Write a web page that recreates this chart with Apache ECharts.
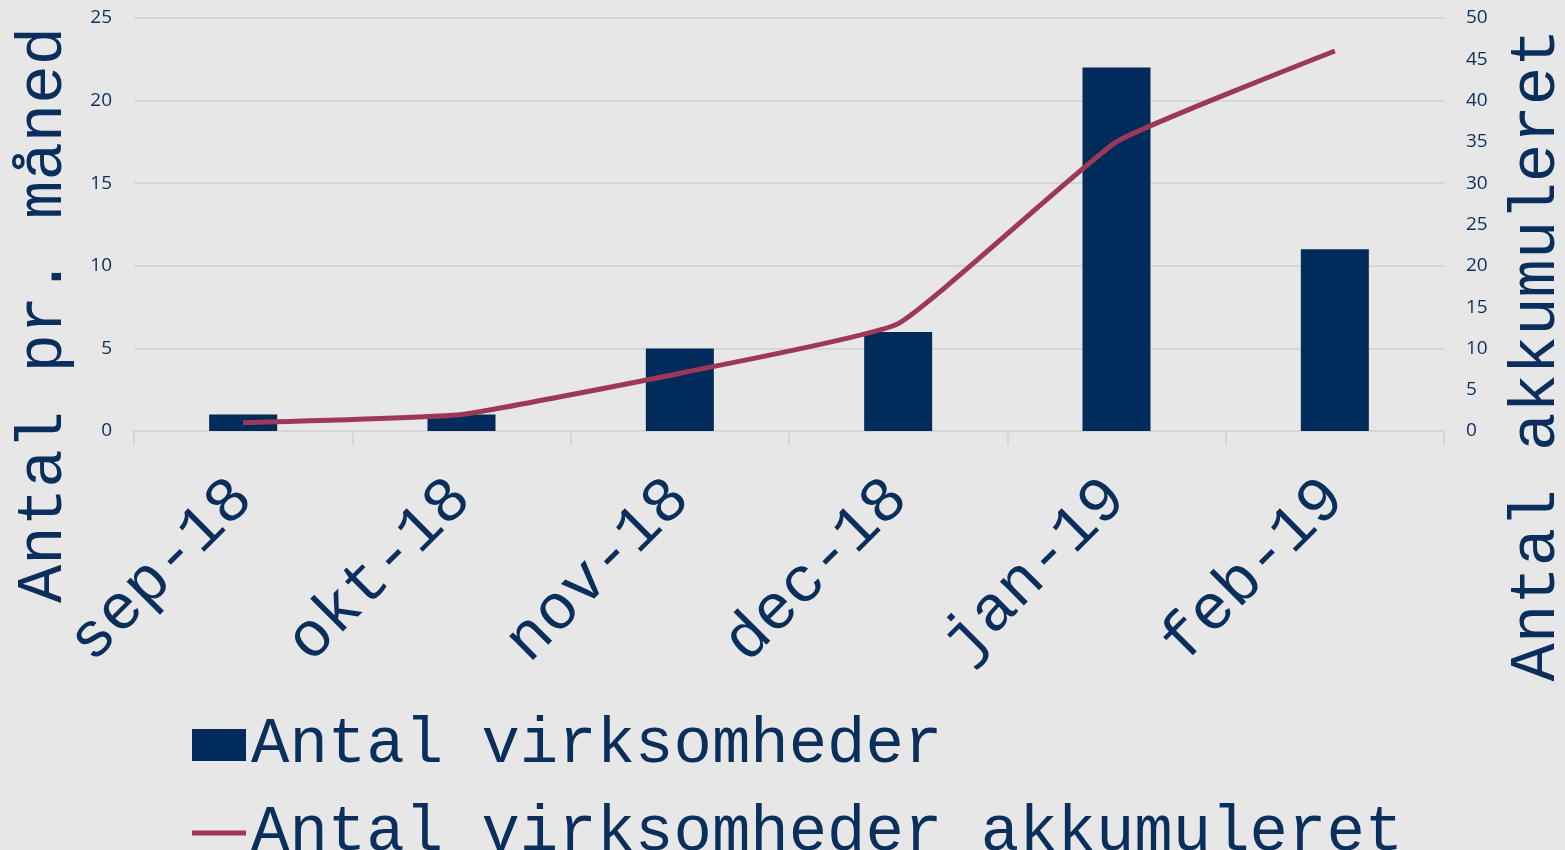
<!DOCTYPE html>
<html>
<head>
<meta charset="utf-8">
<script src="https://cdn.jsdelivr.net/npm/echarts@6/dist/echarts.min.js"></script>
<style>
  html, body { margin: 0; padding: 0; background: #e7e7e7; }
  #chart { width: 1565px; height: 850px; }
</style>
</head>
<body>
<div id="chart"></div>
<script>
const months = ["sep-18", "okt-18", "nov-18", "dec-18", "jan-19", "feb-19"];
const perMonth = [1, 1, 5, 6, 22, 11];
const cumulative = [1, 2, 7, 13, 35, 46];

const navy = "#002b5b";
const wine = "#9e3858";
const textColor = "#0b2f5c";
const mono = "'Liberation Mono', 'DejaVu Sans Mono', monospace";
const sans = "'Open Sans', 'Noto Sans', sans-serif";

const legendBase = {
  orient: "horizontal",
  left: 187,
  itemWidth: 54,
  itemHeight: 32,
  textStyle: { color: textColor, fontFamily: mono, fontSize: 64, lineHeight: 64 },
};

const ch = echarts.init(document.getElementById("chart"));

ch.setOption({
  backgroundColor: "#e7e7e7",
  animation: false,
  grid: { left: 134, right: 121, top: 18, bottom: 419 },
  legend: [
    Object.assign({}, legendBase, {
      top: 708,
      data: [{ name: "Antal virksomheder", icon: "rect" }],
    }),
    Object.assign({}, legendBase, {
      top: 796,
      data: [{ name: "Antal virksomheder akkumuleret", icon: "path://M0,0H54V5H0Z" }],
    }),
  ],
  graphic: [
    {
      type: "text",
      x: 44,
      y: 315,
      rotation: Math.PI / 2,
      style: {
        text: "Antal pr. måned",
        fill: textColor,
        font: `64px ${mono}`,
        textAlign: "center",
        textVerticalAlign: "middle",
      },
    },
    {
      type: "text",
      x: 1537,
      y: 355,
      rotation: Math.PI / 2,
      style: {
        text: "Antal akkumuleret",
        fill: textColor,
        font: `64px ${mono}`,
        textAlign: "center",
        textVerticalAlign: "middle",
      },
    },
  ],
  xAxis: {
    type: "category",
    data: months,
    axisLine: { lineStyle: { color: "#d6d6d6", width: 2 } },
    axisTick: { show: true, length: 14, lineStyle: { color: "#d6d6d6", width: 2 } },
    axisLabel: {
      rotate: 45,
      margin: 58,
      color: textColor,
      fontFamily: mono,
      fontSize: 64,
    },
  },
  yAxis: [
    {
      type: "value",
      min: 0,
      max: 25,
      interval: 5,
      axisLine: { show: false },
      axisTick: { show: false },
      axisLabel: { color: textColor, fontFamily: sans, fontSize: 19, margin: 22 },
      splitLine: { lineStyle: { color: "#d6d6d6", width: 2 } },
    },
    {
      type: "value",
      min: 0,
      max: 50,
      interval: 5,
      axisLine: { show: false },
      axisTick: { show: false },
      axisLabel: { color: textColor, fontFamily: sans, fontSize: 19, margin: 22 },
      splitLine: { show: false },
    },
  ],
  series: [
    {
      name: "Antal virksomheder",
      type: "bar",
      data: perMonth,
      barWidth: 68,
      itemStyle: { color: navy },
    },
    {
      name: "Antal virksomheder akkumuleret",
      type: "line",
      yAxisIndex: 1,
      data: cumulative,
      smooth: 0.12,
      symbol: "none",
      lineStyle: { color: wine, width: 5 },
      itemStyle: { color: wine },
      z: 10,
    },
  ],
});
</script>
</body>
</html>
